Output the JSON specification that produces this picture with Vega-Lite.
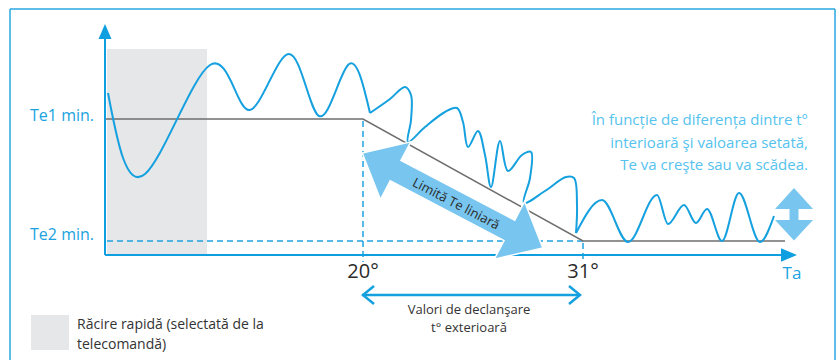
{
  "$schema": "https://vega.github.io/schema/vega-lite/v6.json",
  "width": 839,
  "height": 360,
  "autosize": "none",
  "padding": 0,
  "background": "white",
  "config": {"view": {"stroke": null}},
  "datasets": {
    "frame": [
      {"x": 10, "y": 9, "x2": 10, "y2": 360},
      {"x": 10, "y": 9, "x2": 835, "y2": 9},
      {"x": 835, "y": 9, "x2": 835, "y2": 360}
    ],
    "shade": [
      {"x": 107, "y": 49, "x2": 207, "y2": 254},
      {"x": 31, "y": 315, "x2": 69, "y2": 350}
    ],
    "axes": [
      {"x": 105, "y": 255, "x2": 105, "y2": 38},
      {"x": 105, "y": 255, "x2": 783, "y2": 255}
    ],
    "tipUp": [{"x": 105, "y": 39}],
    "tipRight": [{"x": 781, "y": 255}],
    "limit": [
      {"i": 0, "x": 105, "y": 119},
      {"i": 1, "x": 363, "y": 119},
      {"i": 2, "x": 583, "y": 241},
      {"i": 3, "x": 785, "y": 241}
    ],
    "dashed": [
      {"x": 107, "y": 241, "x2": 583, "y2": 241},
      {"x": 363, "y": 121, "x2": 363, "y2": 262},
      {"x": 583, "y": 243, "x2": 583, "y2": 262}
    ],
    "waveA": [
      {"i": 0, "x": 108, "y": 93},
      {"i": 1, "x": 145, "y": 174},
      {"i": 2, "x": 210, "y": 65},
      {"i": 3, "x": 249, "y": 110},
      {"i": 4, "x": 289, "y": 54},
      {"i": 5, "x": 319, "y": 116},
      {"i": 6, "x": 348, "y": 65},
      {"i": 7, "x": 370, "y": 113}
    ],
    "waveB": [
      {"i": 0, "x": 370, "y": 113},
      {"i": 1, "x": 390, "y": 99},
      {"i": 2, "x": 405, "y": 87},
      {"i": 3, "x": 411, "y": 95},
      {"i": 4, "x": 411, "y": 120},
      {"i": 5, "x": 408, "y": 142},
      {"i": 6, "x": 425, "y": 127},
      {"i": 7, "x": 445, "y": 112},
      {"i": 8, "x": 457, "y": 108},
      {"i": 9, "x": 463, "y": 122},
      {"i": 10, "x": 468, "y": 147},
      {"i": 11, "x": 478, "y": 131},
      {"i": 12, "x": 485, "y": 155},
      {"i": 13, "x": 491, "y": 187},
      {"i": 14, "x": 500, "y": 141},
      {"i": 15, "x": 508, "y": 171},
      {"i": 16, "x": 522, "y": 155},
      {"i": 17, "x": 531, "y": 152},
      {"i": 18, "x": 530, "y": 178},
      {"i": 19, "x": 524, "y": 203},
      {"i": 20, "x": 545, "y": 191},
      {"i": 21, "x": 566, "y": 177},
      {"i": 22, "x": 574, "y": 178},
      {"i": 23, "x": 577, "y": 205},
      {"i": 24, "x": 576, "y": 233}
    ],
    "waveC": [
      {"i": 0, "x": 576, "y": 233},
      {"i": 1, "x": 602, "y": 200},
      {"i": 2, "x": 628, "y": 242},
      {"i": 3, "x": 657, "y": 195},
      {"i": 4, "x": 668, "y": 224},
      {"i": 5, "x": 684, "y": 205},
      {"i": 6, "x": 696, "y": 223},
      {"i": 7, "x": 707, "y": 209},
      {"i": 8, "x": 722, "y": 241},
      {"i": 9, "x": 739, "y": 193},
      {"i": 10, "x": 760, "y": 242},
      {"i": 11, "x": 774, "y": 216}
    ],
    "range": [
      {"g": "shaft", "i": 0, "x": 362, "y": 295},
      {"g": "shaft", "i": 1, "x": 580, "y": 295},
      {"g": "left", "i": 0, "x": 374, "y": 286},
      {"g": "left", "i": 1, "x": 363, "y": 295},
      {"g": "left", "i": 2, "x": 374, "y": 304},
      {"g": "right", "i": 0, "x": 569, "y": 286},
      {"g": "right", "i": 1, "x": 580, "y": 295},
      {"g": "right", "i": 2, "x": 569, "y": 304}
    ],
    "bigArrow": [{"x": 452.5, "y": 200.5}],
    "bigArrowText": [{"x": 456, "y": 204, "text": "Limită Te liniară"}],
    "updown": [{"x": 794, "y": 214.5}],
    "leftLabels": [
      {"x": 94, "y": 116, "text": "Te1 min."},
      {"x": 94, "y": 235, "text": "Te2 min."}
    ],
    "ticks": [
      {"x": 363, "y": 272, "text": "20°"},
      {"x": 583, "y": 272, "text": "31°"}
    ],
    "ta": [{"x": 792, "y": 274, "text": "Ta"}],
    "valori": [
      {"x": 469, "y": 310, "text": "Valori de declanşare"},
      {"x": 469, "y": 328, "text": "t° exterioară"}
    ],
    "legendText": [
      {"x": 77, "y": 325, "text": "Răcire rapidă (selectată de la"},
      {"x": 77, "y": 345, "text": "telecomandă)"}
    ],
    "note": [
      {"x": 808, "y": 120, "text": "În funcție de diferența dintre t°"},
      {"x": 808, "y": 143, "text": "interioară şi valoarea setată,"},
      {"x": 808, "y": 165, "text": "Te va creşte sau va scădea."}
    ]
  },
  "encoding": {
    "x": {"field": "x", "type": "quantitative", "scale": {"domain": [0, 839], "nice": false, "zero": false}, "axis": null},
    "y": {"field": "y", "type": "quantitative", "scale": {"domain": [360, 0], "nice": false, "zero": false}, "axis": null}
  },
  "layer": [
    {
      "data": {"name": "shade"},
      "mark": {"type": "rect", "color": "#e6e7e8"},
      "encoding": {"x2": {"field": "x2"}, "y2": {"field": "y2"}}
    },
    {
      "data": {"name": "frame"},
      "mark": {"type": "rule", "color": "#2aa7e2", "strokeWidth": 1.5},
      "encoding": {"x2": {"field": "x2"}, "y2": {"field": "y2"}}
    },
    {
      "data": {"name": "dashed"},
      "mark": {"type": "rule", "color": "#1fa2e0", "strokeWidth": 1.5, "strokeDash": [6, 4]},
      "encoding": {"x2": {"field": "x2"}, "y2": {"field": "y2"}}
    },
    {
      "data": {"name": "limit"},
      "mark": {"type": "line", "color": "#6f6f6f", "strokeWidth": 1.5},
      "encoding": {"order": {"field": "i"}}
    },
    {
      "data": {"name": "axes"},
      "mark": {"type": "rule", "color": "#0d9fe0", "strokeWidth": 2},
      "encoding": {"x2": {"field": "x2"}, "y2": {"field": "y2"}}
    },
    {
      "data": {"name": "tipUp"},
      "mark": {"type": "point", "shape": "M0,-1.5L0.65,0L-0.65,0Z", "size": 400, "filled": true, "color": "#0d9fe0", "opacity": 1}
    },
    {
      "data": {"name": "tipRight"},
      "mark": {"type": "point", "shape": "M1.6,0L0,-0.68L0,0.68Z", "size": 400, "filled": true, "color": "#0d9fe0", "opacity": 1}
    },
    {
      "data": {"name": "waveA"},
      "mark": {"type": "line", "color": "#15a0df", "strokeWidth": 2, "interpolate": "natural"},
      "encoding": {"order": {"field": "i"}}
    },
    {
      "data": {"name": "waveB"},
      "mark": {"type": "line", "color": "#15a0df", "strokeWidth": 2, "interpolate": "catmull-rom"},
      "encoding": {"order": {"field": "i"}}
    },
    {
      "data": {"name": "waveC"},
      "mark": {"type": "line", "color": "#15a0df", "strokeWidth": 2, "interpolate": "monotone"},
      "encoding": {"order": {"field": "i"}}
    },
    {
      "data": {"name": "bigArrow"},
      "mark": {"type": "point", "shape": "M-1,0L-0.63,-0.32L-0.63,-0.113L0.63,-0.113L0.63,-0.32L1,0L0.63,0.32L0.63,0.113L-0.63,0.113L-0.63,0.32Z", "size": 41616, "filled": true, "fill": "#78c6ef", "stroke": "white", "strokeWidth": 1.5, "opacity": 1, "angle": 27.7}
    },
    {
      "data": {"name": "bigArrowText"},
      "mark": {"type": "text", "angle": 27.5, "align": "center", "baseline": "middle", "font": "Open Sans", "fontSize": 13, "color": "#2b2b2b"},
      "encoding": {"text": {"field": "text"}}
    },
    {
      "data": {"name": "updown"},
      "mark": {"type": "point", "shape": "M0,-2.65L1.9,-0.55L0.45,-0.55L0.45,0.55L1.9,0.55L0,2.6L-1.9,0.55L-0.45,0.55L-0.45,-0.55L-1.9,-0.55Z", "size": 400, "filled": true, "fill": "#78c6ef", "opacity": 1}
    },
    {
      "data": {"name": "range"},
      "mark": {"type": "line", "color": "#15a0df", "strokeWidth": 2.5},
      "encoding": {"detail": {"field": "g"}, "order": {"field": "i"}}
    },
    {
      "data": {"name": "leftLabels"},
      "mark": {"type": "text", "align": "right", "baseline": "middle", "font": "Open Sans", "fontSize": 16, "color": "#1aa3e0"},
      "encoding": {"text": {"field": "text"}}
    },
    {
      "data": {"name": "ticks"},
      "mark": {"type": "text", "align": "center", "baseline": "middle", "font": "Open Sans", "fontSize": 20, "color": "#2b2b2b"},
      "encoding": {"text": {"field": "text"}}
    },
    {
      "data": {"name": "ta"},
      "mark": {"type": "text", "align": "center", "baseline": "middle", "font": "Open Sans", "fontSize": 17, "color": "#1aa3e0"},
      "encoding": {"text": {"field": "text"}}
    },
    {
      "data": {"name": "valori"},
      "mark": {"type": "text", "align": "center", "baseline": "middle", "font": "Open Sans", "fontSize": 13, "color": "#333333"},
      "encoding": {"text": {"field": "text"}}
    },
    {
      "data": {"name": "legendText"},
      "mark": {"type": "text", "align": "left", "baseline": "middle", "font": "Open Sans", "fontSize": 14, "color": "#333333"},
      "encoding": {"text": {"field": "text"}}
    },
    {
      "data": {"name": "note"},
      "mark": {"type": "text", "align": "right", "baseline": "middle", "font": "Open Sans", "fontSize": 15, "color": "#55c3ee"},
      "encoding": {"text": {"field": "text"}}
    }
  ]
}
